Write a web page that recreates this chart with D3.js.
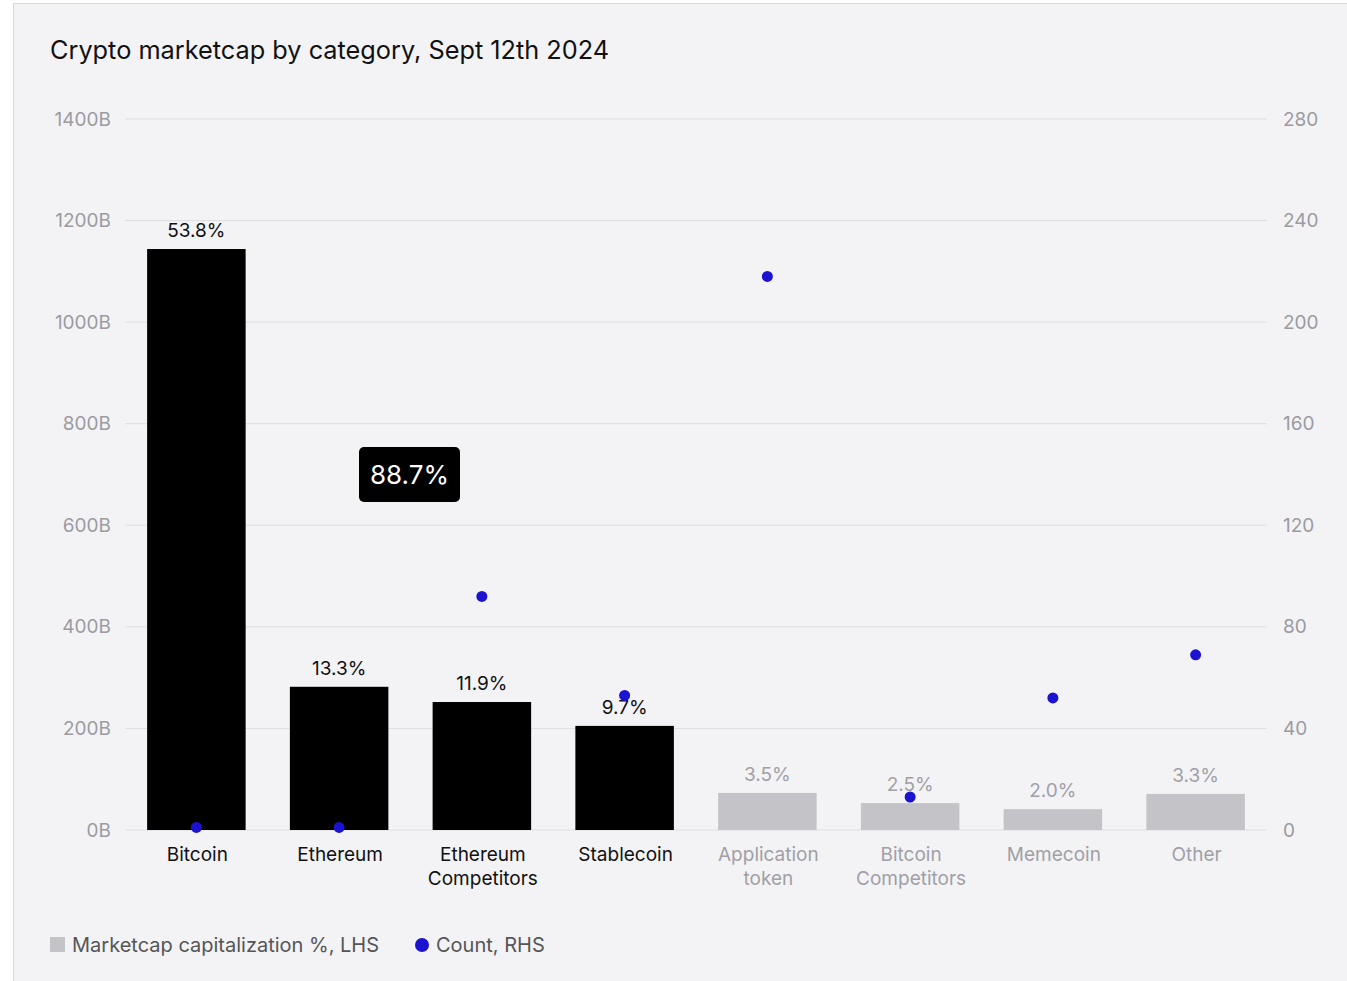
<!DOCTYPE html>
<html>
<head>
<meta charset="utf-8">
<script src="https://cdn.jsdelivr.net/npm/d3@7"></script>
<style>
  html, body { margin: 0; padding: 0; background: #fff; }
  body { font-family: Inter, "Liberation Sans", Arial, sans-serif; }
</style>
</head>
<body>
<div id="chart"></div>
<script>
/**
 * DATA
 * */
const categories = ["Bitcoin", "Ethereum", "Ethereum\nCompetitors", "Stablecoin",
  "Application\ntoken", "Bitcoin\nCompetitors", "Memecoin", "Other"];
const marketcap = [1144, 282, 252, 205, 73, 53, 41, 71];   // billions, LHS
const sharePct = ["53.8%", "13.3%", "11.9%", "9.7%", "3.5%", "2.5%", "2.0%", "3.3%"];
const counts = [1, 1, 92, 53, 218, 13, 52, 69];            // RHS
const highlighted = [true, true, true, true, false, false, false, false];
const leftTicks = [0, 200, 400, 600, 800, 1000, 1200, 1400];
const rightTicks = [0, 40, 80, 120, 160, 200, 240, 280];

const width = 1347, height = 981;
const margin = { top: 119, bottom: 151, left: 125, right: 80 };
const font = "Inter, Liberation Sans, Arial, sans-serif";

const svg = d3.select("#chart").append("svg")
  .attr("width", width).attr("height", height)
  .style("font-family", font);

// panel
svg.append("rect").attr("x", 13).attr("y", 3).attr("width", width - 13).attr("height", height - 3)
  .attr("fill", "#f3f3f6");
svg.append("path").attr("d", `M13.5,${height} V3.5 H${width}`)
  .attr("fill", "none").attr("stroke", "#d8d8dc");

// title
svg.append("text").attr("x", 50).attr("y", 59)
  .attr("font-size", 25.3).attr("fill", "#111")
  .text("Crypto marketcap by category, Sept 12th 2024");

const x = d3.scaleBand().domain(d3.range(categories.length))
  .range([margin.left, width - margin.right]).paddingInner(0.31).paddingOuter(0.155);
const yL = d3.scaleLinear().domain([0, 1400]).range([height - margin.bottom, margin.top]);
const yR = d3.scaleLinear().domain([0, 280]).range([height - margin.bottom, margin.top]);

// gridlines
svg.append("g").selectAll("line").data(leftTicks).join("line")
  .attr("x1", margin.left).attr("x2", width - margin.right)
  .attr("y1", d => yL(d)).attr("y2", d => yL(d))
  .attr("stroke", "#dedee2").attr("stroke-width", 1);

// left axis
const axL = svg.append("g").attr("transform", `translate(${margin.left - 11},0)`)
  .call(d3.axisLeft(yL).tickValues(leftTicks).tickSize(0).tickFormat(d => d + "B"));
axL.select(".domain").remove();
axL.selectAll("text").attr("fill", "#9b9ba0").attr("font-size", 19)
  .attr("font-family", font).attr("dx", 0);

// right axis
const axR = svg.append("g").attr("transform", `translate(${width - margin.right + 13},0)`)
  .call(d3.axisRight(yR).tickValues(rightTicks).tickSize(0));
axR.select(".domain").remove();
axR.selectAll("text").attr("fill", "#9b9ba0").attr("font-size", 19)
  .attr("font-family", font).attr("dx", 0);

// bars
svg.append("g").selectAll("rect").data(marketcap).join("rect")
  .attr("x", (d, i) => x(i)).attr("width", x.bandwidth())
  .attr("y", d => yL(d)).attr("height", d => yL(0) - yL(d))
  .attr("fill", (d, i) => highlighted[i] ? "#000" : "#c4c4c8");

// share labels
svg.append("g").selectAll("text").data(marketcap).join("text")
  .attr("x", (d, i) => x(i) + x.bandwidth() / 2)
  .attr("y", d => yL(d) - 12)
  .attr("text-anchor", "middle").attr("font-size", 19)
  .attr("fill", (d, i) => highlighted[i] ? "#111" : "#a0a0a5")
  .text((d, i) => sharePct[i]);

// category labels
const cat = svg.append("g").selectAll("text").data(categories).join("text")
  .attr("x", (d, i) => x(i) + x.bandwidth() / 2 + 1)
  .attr("y", yL(0) + 31)
  .attr("text-anchor", "middle").attr("font-size", 19)
  .attr("fill", (d, i) => highlighted[i] ? "#111" : "#a0a0a5");
cat.selectAll("tspan").data(d => d.split("\n")).join("tspan")
  .attr("x", function() { return this.parentNode.getAttribute("x"); })
  .attr("dy", (d, i) => i ? 24 : 0)
  .text(d => d);

// count dots
svg.append("g").selectAll("circle").data(counts).join("circle")
  .attr("cx", (d, i) => x(i) + x.bandwidth() / 2)
  .attr("cy", d => yR(d))
  .attr("r", 5.5).attr("fill", "#1c13d1");

// annotation
const ann = svg.append("g").attr("transform", "translate(359,447)");
ann.append("rect").attr("width", 101).attr("height", 55).attr("rx", 5).attr("fill", "#000");
ann.append("text").attr("x", 50.5).attr("y", 37).attr("text-anchor", "middle")
  .attr("font-size", 26).attr("fill", "#fff").text("88.7%");

// legend
const lg = svg.append("g");
lg.append("rect").attr("x", 50).attr("y", 937).attr("width", 15).attr("height", 15).attr("fill", "#c4c4c8");
lg.append("text").attr("x", 72).attr("y", 952).attr("font-size", 20).attr("fill", "#555")
  .text("Marketcap capitalization %, LHS");
lg.append("circle").attr("cx", 422).attr("cy", 945).attr("r", 7).attr("fill", "#1c13d1");
lg.append("text").attr("x", 436).attr("y", 952).attr("font-size", 20).attr("fill", "#555")
  .text("Count, RHS");
</script>
</body>
</html>
